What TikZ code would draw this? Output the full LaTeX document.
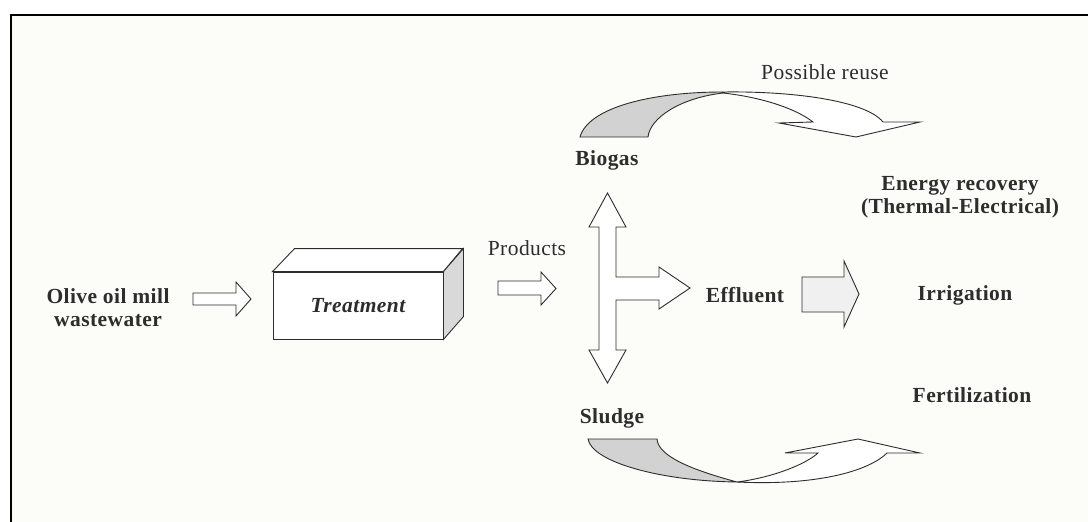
\documentclass[tikz,border=0pt]{standalone}
\usepackage{fontspec}
\setmainfont{Liberation Serif}[LetterSpace=2]
\usepackage{tikz}
\usetikzlibrary{arrows}
\definecolor{bgcream}{RGB}{252,253,248}
\definecolor{ink}{RGB}{45,45,45}

\begin{document}
\begin{tikzpicture}[x=1pt,y=-1pt]
\tikzset{word/.style = {font=\fontsize{21.5}{23}\selectfont\bfseries, text=ink, align=center, inner sep=0pt}}
\tikzset{plain/.style = {font=\fontsize{21.5}{23}\selectfont, text=ink, inner sep=0pt}}
\tikzset{hollow/.style = {draw=ink, line width=0.9pt, fill=white, line join=miter}}
\useasboundingbox (0,0) rectangle (1088,522);
% frame
\fill[bgcream] (11,15) rectangle (1088,522);
\draw[line width=2.2pt] (11,522) -- (11,15) -- (1088,15);
% vertices
\node[word] (oomw) at (108,308) {Olive oil mill\\wastewater};
\node[draw=ink, line width=0.9pt, fill=white, minimum width=170pt, minimum height=67pt,
      inner sep=0pt] (treat) at (358,305.5) {};
\node[word, font=\fontsize{21.5}{23}\selectfont\bfseries\itshape] at (treat) {Treatment};
\node[plain] (prod) at (527,248) {Products};
\node[word] (bio) at (607,160) {Biogas};
\node[word] (slud) at (612,418) {Sludge};
\node[word] (eff) at (745,295) {Effluent};
\node[word] (irr) at (965,295) {Irrigation};
\node[word] (ener) at (960,197) {Energy recovery\\(Thermal-Electrical)};
\node[word] (fert) at (972,395) {Fertilization};
\node[plain] (reuse) at (825,72) {Possible reuse};
% box faces
\draw[hollow] (treat.north west) -- ++(22,-23) -- ++(168,0) -- (treat.north east) -- cycle;
\draw[hollow, fill=gray!30] (treat.north east) -- ++(20,-23) -- ++(0,68) -- (treat.south east) -- cycle;
%edges
\draw[hollow] (193,293) -- (236,293) -- (236,282) -- (251,299) -- (236,316) -- (236,305) -- (193,305) -- cycle;
\draw[hollow] (498,281) -- (541,281) -- (541,272) -- (556,288.5) -- (541,305) -- (541,295) -- (498,295) -- cycle;
\draw[hollow] (607.5,193) -- (626,227) -- (616,227) -- (616,277) -- (659,277) -- (659,267) -- (690,288)
  -- (659,309) -- (659,300) -- (616,300) -- (616,350) -- (626,350) -- (607.5,383) -- (589,350)
  -- (599,350) -- (599,227) -- (589,227) -- cycle;
\draw[hollow, fill=gray!12] (802,277) -- (844,277) -- (844,261) -- (859,294) -- (844,327) -- (844,312) -- (802,312) -- cycle;
% possible reuse (biogas)
\draw[hollow] (723,92) .. controls (790,91) and (865,100) .. (883,122) -- (920,122) -- (856,137)
  -- (779,123) -- (813,122) .. controls (795,108) and (760,97) .. (723,93) -- cycle;
\draw[hollow, fill=gray!35] (580,137) -- (648,137) .. controls (650,118) and (680,98) .. (723,93)
  -- (723,92) .. controls (650,92) and (588,108) .. (580,137) -- cycle;
% possible reuse (sludge)
\draw[hollow] (737,482) .. controls (820,486) and (870,470) .. (887,453) -- (920,453) -- (858,439)
  -- (785,453) -- (818,453) .. controls (805,465) and (770,478) .. (737,482) -- cycle;
\draw[hollow, fill=gray!35] (588,439) -- (657,439) .. controls (658,458) and (700,472) .. (737,482)
  .. controls (660,481) and (592,462) .. (588,439) -- cycle;
\end{tikzpicture}
\end{document}
